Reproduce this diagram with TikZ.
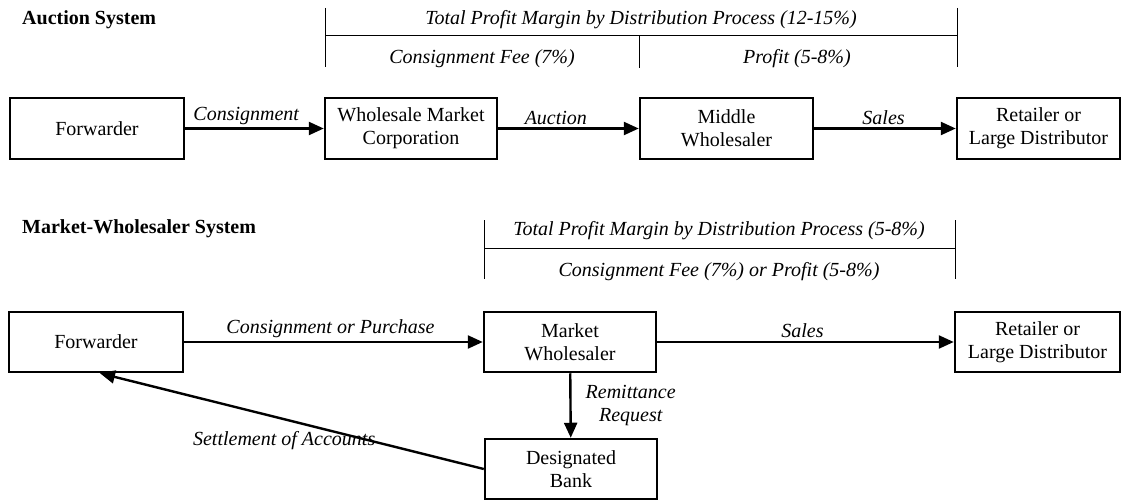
\documentclass[tikz,border=0pt]{standalone}
\usepackage{fontspec}
\setmainfont{Liberation Serif}
\usetikzlibrary{arrows.meta,calc}
\tikzset{
  box/.style={draw, line width=2.5pt, align=center, inner sep=2pt,
    font=\fontsize{20}{23}\selectfont},
  arr/.style={line width=2.4pt, -{Triangle[length=15pt,width=13pt]}},
  lab/.style={font=\fontsize{20}{23}\selectfont\itshape, inner sep=2pt, align=center},
  ttl/.style={font=\fontsize{20}{23}\selectfont\bfseries, inner sep=0pt, anchor=west},
  brk/.style={line width=1pt}
}
\begin{document}
\begin{tikzpicture}[x=1pt,y=-1pt]
\useasboundingbox[fill=white] (0,0) rectangle (1122,500);

% ---------- Auction System ----------
\node[ttl] (t1) at (22,20) {Auction System};
\draw[brk] (325.7,8) -- (325.7,67);
\draw[brk] (957,8) -- (957,67);
\draw[brk] (325.7,36) -- (957,36);
\draw[brk] (639,36) -- (639,68);
\node[lab] (tp1) at (641,20) {Total Profit Margin by Distribution Process (12-15\%)};
\node[lab] (cf1) at (482,59) {Consignment Fee (7\%)};
\node[lab] (pf1) at (797,59) {Profit (5-8\%)};

\node[box, minimum width=174, minimum height=61] (fw1) at (97,128.5) {Forwarder};
\node[box, minimum width=172, minimum height=61] (wmc) at (411,128.5) {Wholesale Market\\Corporation};
\node[box, minimum width=173, minimum height=61] (mw) at (726.5,128.5) {Middle\\Wholesaler};
\node[box, minimum width=163, minimum height=61] (ret1) at (1038.5,128.5) {Retailer or\\Large Distributor};

\draw[arr] (fw1) -- node[lab, pos=0.44, above=1pt] {Consignment} (wmc);
\draw[arr] (wmc) -- node[lab, pos=0.41, above=1pt] {Auction} (mw);
\draw[arr] (mw) -- node[lab, pos=0.49, above=1pt] {Sales} (ret1);

% ---------- Market-Wholesaler System ----------
\node[ttl] (t2) at (22,229) {Market-Wholesaler System};
\draw[brk] (484,220) -- (484,279);
\draw[brk] (955,220) -- (955,279);
\draw[brk] (484,248) -- (955,248);
\node[lab] (tp2) at (719,231) {Total Profit Margin by Distribution Process (5-8\%)};
\node[lab] (cf2) at (719,272) {Consignment Fee (7\%) or Profit (5-8\%)};

\node[box, minimum width=174, minimum height=60] (fw2) at (96,342) {Forwarder};
\node[box, minimum width=172, minimum height=60] (mkt) at (570,342) {Market\\Wholesaler};
\node[box, minimum width=165, minimum height=60] (ret2) at (1037.5,342) {Retailer or\\Large Distributor};
\node[box, minimum width=172, minimum height=60] (bank) at (571,469) {Designated\\Bank};

\draw[arr] (fw2) -- node[lab, pos=0.49, above=1pt] {Consignment or Purchase} (mkt);
\draw[arr] (mkt) -- node[lab, pos=0.5, right=12pt] {Remittance\\Request} (bank);
\draw[arr] (mkt) -- node[lab, pos=0.49, above=1pt] {Sales} (ret2);
\draw[arr] (bank.west) -- node[lab, pos=0.52, yshift=-21pt] {Settlement of Accounts} ($(fw2.south)+(4,0)$);
\end{tikzpicture}
\end{document}
